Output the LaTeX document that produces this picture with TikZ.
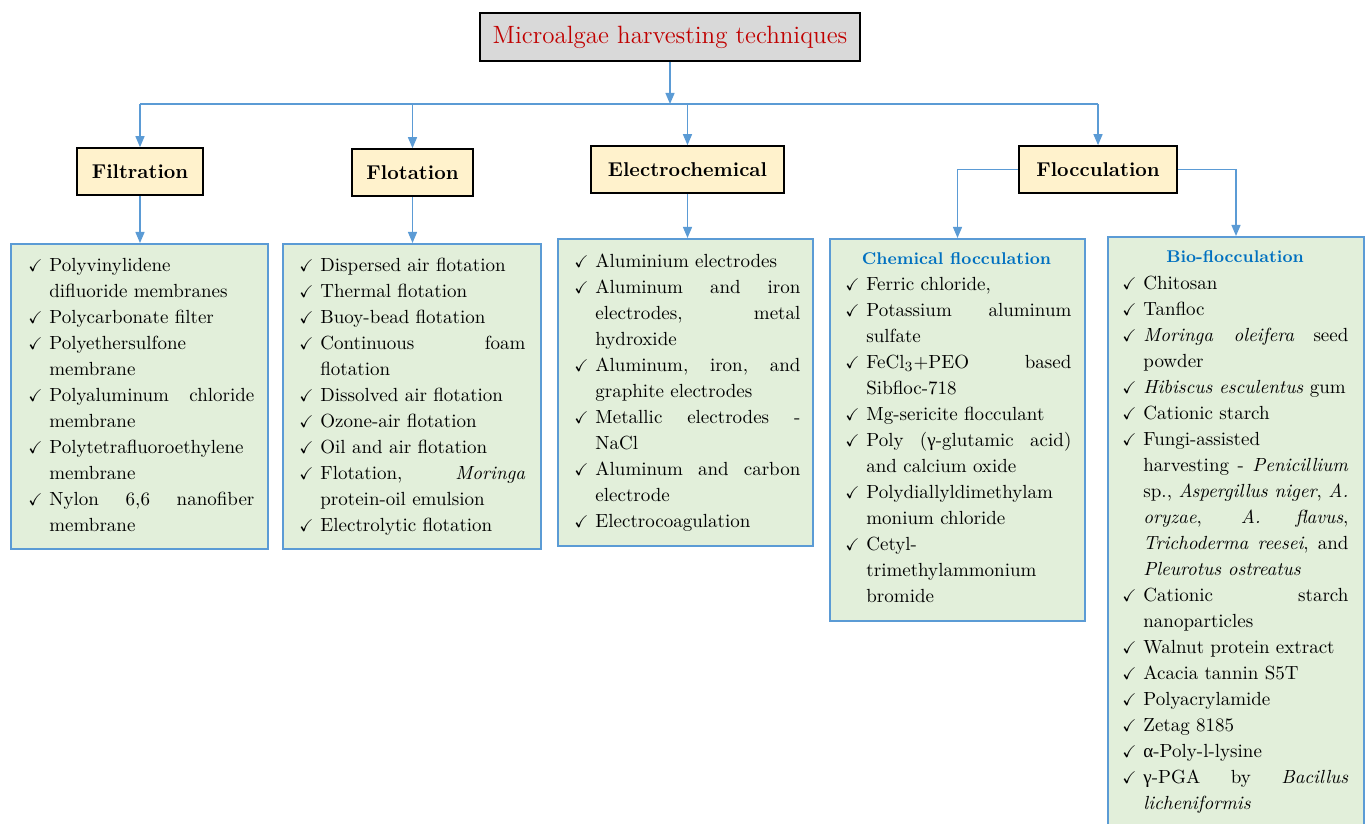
\documentclass[tikz,border=0pt]{standalone}
\usepackage{amssymb}
\usepackage{fontspec}
\newfontfamily\gk{Liberation Serif}
\usetikzlibrary{arrows.meta}
\definecolor{lineblue}{HTML}{5B9BD5}
\definecolor{listgreen}{HTML}{E2EFDA}
\definecolor{catfill}{HTML}{FFF2CC}
\definecolor{titlegray}{HTML}{D9D9D9}
\definecolor{titlered}{HTML}{C00000}
\definecolor{headblue}{HTML}{0070C0}
\newlength\tw
\setlength\tw{102.5pt}
\newcommand\ck{\strut\makebox[10.5pt][l]{\fontsize{8.5}{8.5}\selectfont$\checkmark$}}
\newcommand\ind{\strut\hspace*{10.5pt}}
\newcommand\J[1]{\makebox[\tw][s]{#1}}
\newcommand\gam{{\gk γ}}
\newcommand\alp{{\gk α}}
\tikzset{
  titlebox/.style={draw=black, line width=1pt, fill=titlegray, minimum width=190pt, minimum height=24pt, text=titlered, font=\fontsize{12.5}{15}\selectfont},
  catbox/.style={draw=black, line width=0.8pt, fill=catfill, minimum height=23.5pt, font=\bfseries\fontsize{10}{12}\selectfont},
  listbox/.style={draw=lineblue, line width=1pt, fill=listgreen, anchor=north west},
  listtext/.style={anchor=north west, inner sep=0pt, align=left, font=\fontsize{9.5}{13}\selectfont},
  heading/.style={text=headblue, font=\bfseries\fontsize{8.5}{10}\selectfont, inner sep=0pt},
  conn/.style={draw=lineblue, line width=0.65pt, -{Triangle[width=4.5pt,length=5.5pt]}},
  busline/.style={draw=lineblue, line width=0.65pt},
}
\begin{document}
\begin{tikzpicture}[x=0.5pt,y=-0.5pt]
\useasboundingbox (0,0) rectangle (1368,823);
\clip (0,0) rectangle (1368,823);
% title
\node[titlebox] (title) at (670,37) {Microalgae harvesting techniques};
\coordinate (bus) at (670,104);
% categories
\node[catbox, minimum width=63pt] (filt) at (140,171.5) {Filtration};
\node[catbox, minimum width=60.5pt] (flot) at (412.5,172.5) {Flotation};
\node[catbox, minimum width=96.5pt] (elec) at (687.5,169.5) {Electrochemical};
\node[catbox, minimum width=79pt] (floc) at (1098,169.5) {Flocculation};
% list boxes
\node[listbox, minimum width=128.5pt, minimum height=152.5pt] (filtL) at (10,243) {};
\node[listbox, minimum width=129pt, minimum height=152.5pt] (flotL) at (282,243) {};
\node[listbox, minimum width=127.5pt, minimum height=153.5pt] (elecL) at (557,238) {};
\node[listbox, minimum width=127.5pt, minimum height=191pt] (chemL) at (829,238) {};
\node[listbox, minimum width=128pt, minimum height=310pt] (bioL) at (1107,236) {};
% connectors
\draw[conn] (title.south) -- (title.south |- bus);
\draw[busline] (filt.north |- bus) -- (floc.north |- bus);
\draw[conn] (filt.north |- bus) -- (filt.north);
\draw[conn] (flot.north |- bus) -- (flot.north);
\draw[conn] (elec.north |- bus) -- (elec.north);
\draw[conn] (floc.north |- bus) -- (floc.north);
\draw[conn] (filt.south) -- (filt.south |- filtL.north);
\draw[conn] (flot.south) -- (flot.south |- flotL.north);
\draw[conn] (elec.south) -- (elec.south |- elecL.north);
\draw[conn] (floc.west) -| (chemL.north);
\draw[conn] (floc.east) -| (bioL.north);
% list texts
\node[listtext] (filtT) at (28,253) {%
\ck Polyvinylidene\\
\ind difluoride membranes\\
\ck Polycarbonate filter\\
\ck Polyethersulfone\\
\ind membrane\\
\ck\J{Polyaluminum chloride}\\
\ind membrane\\
\ck Polytetrafluoroethylene\\
\ind membrane\\
\ck\J{Nylon 6,6 nanofiber}\\
\ind membrane};
\node[listtext] (flotT) at (299,253) {%
\ck Dispersed air flotation\\
\ck Thermal flotation\\
\ck Buoy-bead flotation\\
\ck\J{Continuous foam}\\
\ind flotation\\
\ck Dissolved air flotation\\
\ck Ozone-air flotation\\
\ck Oil and air flotation\\
\ck\J{Flotation, \textit{Moringa}}\\
\ind protein-oil emulsion\\
\ck Electrolytic flotation};
\node[listtext] (elecT) at (574,249) {%
\ck Aluminium electrodes\\
\ck\J{Aluminum and iron}\\
\ind\J{electrodes, metal}\\
\ind hydroxide\\
\ck\J{Aluminum, iron, and}\\
\ind graphite electrodes\\
\ck\J{Metallic electrodes -}\\
\ind NaCl\\
\ck\J{Aluminum and carbon}\\
\ind electrode\\
\ck Electrocoagulation};
\node[heading] (chemH) at (956.5,259) {Chemical flocculation};
\node[listtext] (chemT) at (845,272) {%
\ck Ferric chloride,\\
\ck\J{Potassium aluminum}\\
\ind sulfate\\
\ck\J{FeCl$_3$+PEO based}\\
\ind Sibfloc-718\\
\ck Mg-sericite flocculant\\
\ck\J{Poly (\gam-glutamic acid)}\\
\ind and calcium oxide\\
\ck Polydiallyldimethylam\\
\ind monium chloride\\
\ck Cetyl-\\
\ind trimethylammonium\\
\ind bromide};
\node[heading] (bioH) at (1235,257) {Bio-flocculation};
\node[listtext] (bioT) at (1122,271) {%
\ck Chitosan\\
\ck Tanfloc\\
\ck\J{\textit{Moringa oleifera} seed}\\
\ind powder\\
\ck \textit{Hibiscus esculentus} gum\\
\ck Cationic starch\\
\ck Fungi-assisted\\
\ind\J{harvesting - \textit{Penicillium}}\\
\ind\J{sp., \textit{Aspergillus niger}, \textit{A.}}\\
\ind\J{\textit{oryzae}, \textit{A. flavus},}\\
\ind\J{\textit{Trichoderma reesei}, and}\\
\ind\textit{Pleurotus ostreatus}\\
\ck\J{Cationic starch}\\
\ind nanoparticles\\
\ck Walnut protein extract\\
\ck Acacia tannin S5T\\
\ck Polyacrylamide\\
\ck Zetag 8185\\
\ck \alp-Poly-l-lysine\\
\ck\J{\gam-PGA by \textit{Bacillus}}\\
\ind\textit{licheniformis}};
\end{tikzpicture}
\end{document}
